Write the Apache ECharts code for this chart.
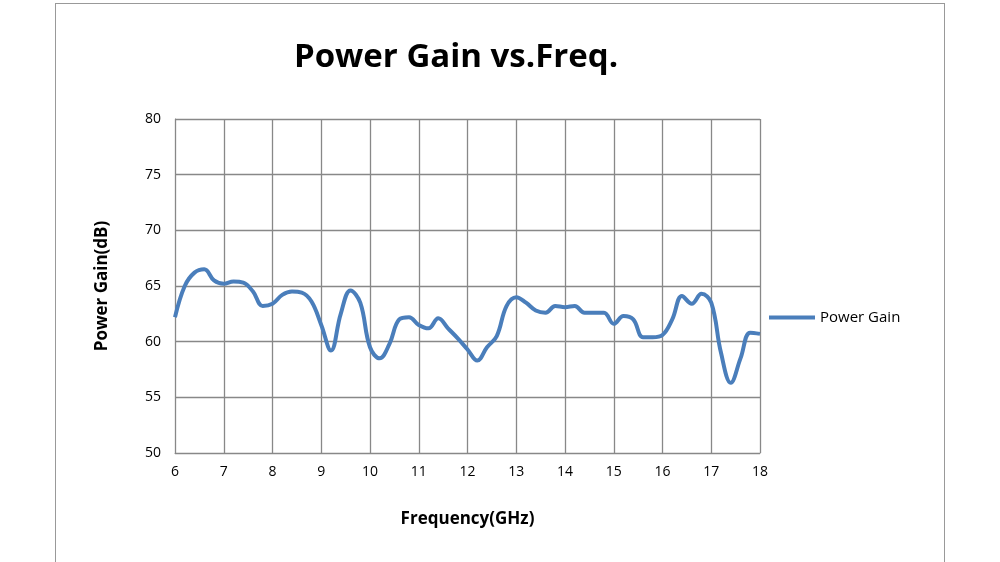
<!DOCTYPE html>
<html><head><meta charset="utf-8">
<script src="https://cdn.jsdelivr.net/npm/echarts@6/dist/echarts.min.js"></script>
<style>body{margin:0;background:#fff}#c{width:1000px;height:562px}
#f{position:absolute;left:55px;top:3px;width:890px;height:570px;border:1px solid #999;box-sizing:border-box}</style>
</head><body><div id="f"></div><div id="c" style="position:absolute;left:0;top:0"></div>
<script>
const freq = [6,6.2,6.4,6.6,6.8,7,7.2,7.4,7.6,7.8,8,8.2,8.4,8.6,8.8,9,9.2,9.4,9.6,9.8,10,10.2,10.4,10.6,10.8,11,11.2,11.4,11.6,11.8,12,12.2,12.4,12.6,12.8,13,13.2,13.4,13.6,13.8,14,14.2,14.4,14.6,14.8,15,15.2,15.4,15.6,15.8,16,16.2,16.4,16.6,16.8,17,17.2,17.4,17.6,17.8,18];
const gain = [62.2,65,66.2,66.5,65.5,65.2,65.4,65.3,64.5,63.2,63.4,64.2,64.5,64.4,63.6,61.5,59.2,62.5,64.6,63.5,59.5,58.5,59.8,62,62.2,61.5,61.2,62.1,61.2,60.3,59.3,58.3,59.5,60.5,63.2,64,63.5,62.8,62.6,63.2,63.1,63.2,62.6,62.6,62.6,61.6,62.3,62.0,60.4,60.4,60.6,62,64.1,63.4,64.3,63.5,59,56.3,58.5,60.8,60.7];
const chart = echarts.init(document.getElementById('c'));
const font = 'Open Sans';
chart.setOption({
  animation:false,
  title:{text:'Power Gain vs.Freq.',left:451,top:36,textAlign:'center',textStyle:{fontFamily:font,fontSize:33,fontWeight:'bold',color:'#000'}},
  legend:{data:['Power Gain'],left:764,top:305,itemWidth:46,itemHeight:4,itemGap:8,textStyle:{fontFamily:font,fontSize:15,color:'#000'},icon:'rect'},
  grid:{left:175,right:240,top:119,bottom:109},
  xAxis:{type:'value',min:6,max:18,interval:1,name:'Frequency(GHz)',nameLocation:'middle',nameGap:58,
    nameTextStyle:{fontFamily:font,fontSize:17,fontWeight:'bold',color:'#000'},
    axisLine:{lineStyle:{color:'#888'}},axisTick:{show:false},
    axisLabel:{fontFamily:font,fontSize:14,color:'#000',margin:12},splitLine:{lineStyle:{color:'#888',width:1.3}}},
  yAxis:{type:'value',min:50,max:80,interval:5,name:'Power Gain(dB)',nameLocation:'middle',nameGap:64,
    nameTextStyle:{fontFamily:font,fontSize:17,fontWeight:'bold',color:'#000'},
    axisLine:{show:true,lineStyle:{color:'#888'}},axisTick:{show:false},
    axisLabel:{fontFamily:font,fontSize:14,color:'#000',margin:14},splitLine:{lineStyle:{color:'#888',width:1.3}}},
  series:[{name:'Power Gain',type:'line',smooth:0.4,showSymbol:false,data:freq.map((f,i)=>[f,gain[i]]),
    lineStyle:{color:'#4a7ebb',width:4},itemStyle:{color:'#4a7ebb'}}]
});
</script></body></html>
